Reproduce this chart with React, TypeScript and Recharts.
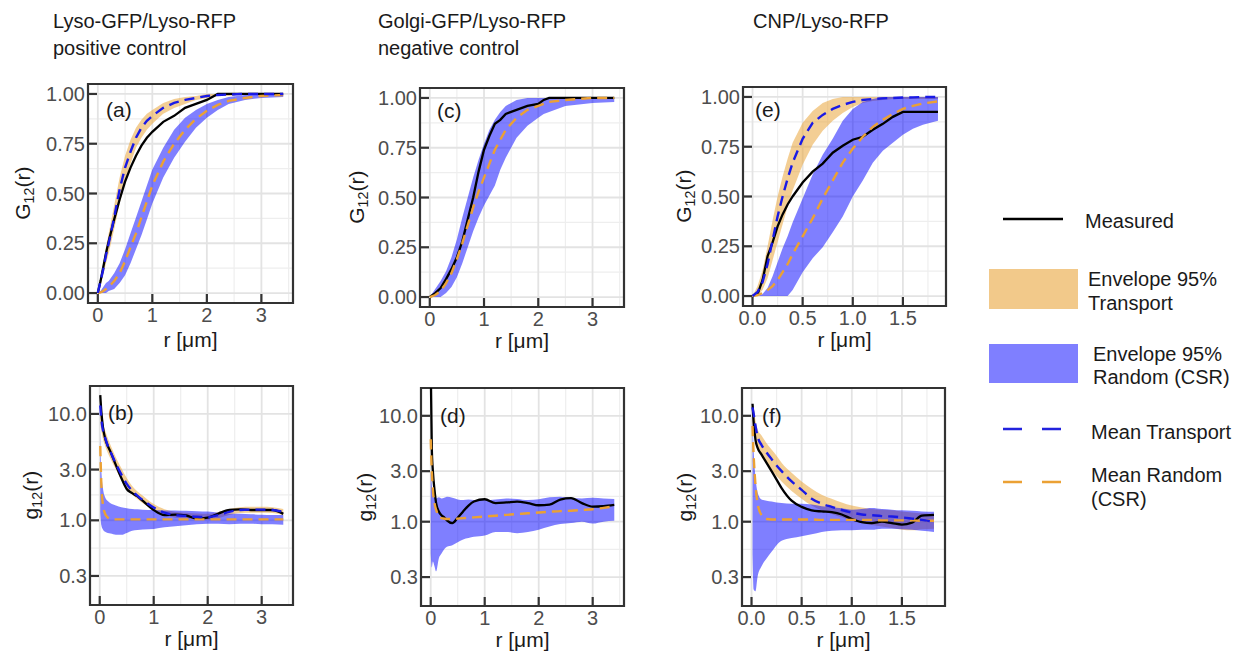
import React from 'react';
import { ComposedChart, Line, Area, XAxis, YAxis, CartesianGrid, ReferenceArea } from 'recharts';

const FONT = '"Liberation Sans", Arial, Helvetica, sans-serif';

// ---------- Panel (a): G12, Lyso-GFP/Lyso-RFP ----------
const aR = [0, 0.05, 0.1, 0.15, 0.2, 0.3, 0.4, 0.5, 0.6, 0.7, 0.8, 0.9, 1.0, 1.2, 1.4, 1.6, 1.8, 2.0, 2.2, 2.4, 2.7, 3.0, 3.4];
const aMeasured = [0, 0.06, 0.13, 0.2, 0.26, 0.37, 0.47, 0.56, 0.63, 0.69, 0.74, 0.78, 0.81, 0.86, 0.89, 0.93, 0.95, 0.97, 1.0, 1.0, 1.0, 1.0, 1.0];
const aMeanTransport = [0, 0.06, 0.12, 0.19, 0.25, 0.38, 0.52, 0.63, 0.71, 0.78, 0.83, 0.865, 0.89, 0.93, 0.955, 0.97, 0.98, 0.99, 0.995, 0.997, 1.0, 1.0, 1.0];
const aTransportLow = [0, 0.04, 0.09, 0.15, 0.2, 0.32, 0.45, 0.56, 0.65, 0.73, 0.78, 0.82, 0.85, 0.9, 0.93, 0.95, 0.97, 0.98, 0.99, 0.99, 1.0, 1.0, 1.0];
const aTransportHigh = [0, 0.08, 0.15, 0.23, 0.3, 0.44, 0.58, 0.69, 0.77, 0.83, 0.87, 0.9, 0.92, 0.955, 0.975, 0.985, 0.99, 1.0, 1.0, 1.0, 1.0, 1.0, 1.0];
const aMeanRandom = [0, 0.003, 0.01, 0.02, 0.03, 0.06, 0.1, 0.16, 0.23, 0.3, 0.38, 0.46, 0.54, 0.66, 0.75, 0.82, 0.875, 0.915, 0.945, 0.965, 0.98, 0.99, 0.995];
const aRandomLow = [0, 0, 0, 0, 0.01, 0.02, 0.05, 0.09, 0.15, 0.22, 0.29, 0.37, 0.45, 0.58, 0.68, 0.76, 0.83, 0.88, 0.92, 0.95, 0.97, 0.98, 0.985];
const aRandomHigh = [0, 0.01, 0.03, 0.05, 0.06, 0.1, 0.15, 0.22, 0.3, 0.38, 0.46, 0.54, 0.62, 0.73, 0.82, 0.88, 0.92, 0.95, 0.97, 0.985, 0.995, 1.0, 1.0];

// ---------- Panel (c): G12, Golgi-GFP/Lyso-RFP ----------
const cR = [0, 0.1, 0.2, 0.3, 0.4, 0.5, 0.6, 0.7, 0.8, 0.9, 1.0, 1.1, 1.2, 1.3, 1.4, 1.6, 1.8, 2.0, 2.1, 2.2, 2.5, 3.0, 3.4];
const cMeasured = [0, 0.02, 0.045, 0.09, 0.14, 0.2, 0.28, 0.39, 0.5, 0.63, 0.74, 0.81, 0.87, 0.89, 0.92, 0.94, 0.96, 0.97, 0.99, 1.0, 1.0, 1.0, 1.0];
const cMeanRandom = [0, 0.01, 0.03, 0.07, 0.12, 0.19, 0.27, 0.36, 0.45, 0.53, 0.6, 0.67, 0.74, 0.79, 0.84, 0.9, 0.94, 0.96, 0.97, 0.98, 0.99, 1.0, 1.0];
const cRandomLow = [0, 0, 0, 0.02, 0.05, 0.1, 0.17, 0.25, 0.33, 0.4, 0.46, 0.51, 0.56, 0.64, 0.7, 0.8, 0.86, 0.9, 0.92, 0.93, 0.96, 0.975, 0.98];
const cRandomHigh = [0, 0.04, 0.08, 0.13, 0.2, 0.29, 0.4, 0.5, 0.6, 0.69, 0.77, 0.84, 0.89, 0.93, 0.96, 0.99, 1.0, 1.0, 1.0, 1.0, 1.0, 1.0, 1.0];

// ---------- Panel (e): G12, CNP/Lyso-RFP ----------
const eR = [0, 0.05, 0.1, 0.15, 0.2, 0.25, 0.3, 0.35, 0.4, 0.5, 0.6, 0.7, 0.8, 0.9, 1.0, 1.1, 1.2, 1.3, 1.4, 1.5, 1.6, 1.7, 1.85];
const eMeasured = [0, 0.01, 0.08, 0.2, 0.27, 0.35, 0.41, 0.46, 0.5, 0.57, 0.625, 0.665, 0.72, 0.755, 0.785, 0.8, 0.835, 0.865, 0.9, 0.925, 0.925, 0.925, 0.925];
const eMeanTransport = [0, 0.02, 0.07, 0.16, 0.28, 0.4, 0.5, 0.59, 0.67, 0.79, 0.87, 0.91, 0.94, 0.96, 0.975, 0.985, 0.99, 0.993, 0.995, 0.997, 0.998, 1.0, 1.0];
const eTransportLow = [0, 0, 0.03, 0.09, 0.18, 0.27, 0.36, 0.45, 0.53, 0.66, 0.76, 0.83, 0.88, 0.92, 0.95, 0.97, 0.98, 0.985, 0.99, 0.99, 0.99, 0.99, 0.99];
const eTransportHigh = [0, 0.05, 0.13, 0.25, 0.38, 0.5, 0.6, 0.69, 0.77, 0.87, 0.93, 0.97, 0.99, 1.0, 1.0, 1.0, 1.0, 1.0, 1.0, 1.0, 1.0, 1.0, 1.0];
const eMeanRandom = [0, 0.005, 0.015, 0.03, 0.05, 0.08, 0.12, 0.16, 0.21, 0.3, 0.39, 0.49, 0.58, 0.67, 0.74, 0.8, 0.85, 0.885, 0.915, 0.94, 0.955, 0.967, 0.978];
const eRandomLow = [0, 0, 0, 0, 0, 0, 0, 0, 0.03, 0.12, 0.19, 0.245, 0.32, 0.4, 0.5, 0.58, 0.67, 0.73, 0.77, 0.81, 0.84, 0.86, 0.88];
const eRandomHigh = [0, 0, 0.01, 0.04, 0.1, 0.17, 0.24, 0.3, 0.37, 0.49, 0.61, 0.71, 0.79, 0.88, 0.94, 0.975, 0.99, 1.0, 1.0, 1.0, 1.0, 1.0, 1.0];

// ---------- Panel (b): g12, Lyso-GFP/Lyso-RFP ----------
const bR = [0.01, 0.03, 0.06, 0.1, 0.15, 0.2, 0.3, 0.4, 0.5, 0.6, 0.7, 0.8, 1.0, 1.2, 1.4, 1.6, 1.8, 2.0, 2.2, 2.4, 2.6, 2.8, 3.0, 3.2, 3.4];
const bMeasured = [15, 10.5, 7.5, 5.9, 5.0, 4.4, 3.3, 2.5, 1.97, 1.8, 1.68, 1.52, 1.25, 1.12, 1.13, 1.11, 1.04, 1.06, 1.16, 1.25, 1.27, 1.25, 1.25, 1.25, 1.15];
const bMeanTransport = [12, 9, 7.0, 6.0, 5.0, 4.4, 3.4, 2.7, 2.2, 1.9, 1.7, 1.55, 1.32, 1.18, 1.12, 1.1, 1.08, 1.07, 1.12, 1.2, 1.25, 1.26, 1.26, 1.25, 1.2];
const bTransportLow = [8, 7, 5.8, 5.0, 4.3, 3.8, 3.0, 2.4, 2.0, 1.75, 1.58, 1.45, 1.24, 1.12, 1.06, 1.04, 1.02, 1.01, 1.05, 1.12, 1.17, 1.18, 1.18, 1.17, 1.12];
const bTransportHigh = [14, 11, 8.2, 7.0, 5.9, 5.1, 3.9, 3.1, 2.5, 2.1, 1.87, 1.7, 1.42, 1.27, 1.2, 1.18, 1.16, 1.15, 1.2, 1.28, 1.33, 1.34, 1.34, 1.33, 1.28];
const bMeanRandom = [5.0, 2.2, 1.4, 1.15, 1.06, 1.03, 1.02, 1.02, 1.02, 1.02, 1.02, 1.02, 1.02, 1.02, 1.02, 1.02, 1.02, 1.02, 1.02, 1.02, 1.02, 1.02, 1.02, 1.02, 1.02];
const bRandomLow = [1.2, 0.9, 0.82, 0.78, 0.76, 0.75, 0.73, 0.73, 0.76, 0.8, 0.81, 0.82, 0.83, 0.86, 0.88, 0.9, 0.92, 0.93, 0.93, 0.92, 0.93, 0.93, 0.92, 0.92, 0.91];
const bRandomHigh = [7.0, 3.0, 2.0, 1.65, 1.52, 1.45, 1.38, 1.33, 1.3, 1.28, 1.27, 1.26, 1.25, 1.24, 1.24, 1.23, 1.22, 1.21, 1.18, 1.16, 1.15, 1.14, 1.13, 1.12, 1.12];

// ---------- Panel (d): g12, Golgi-GFP/Lyso-RFP ----------
const dR = [0.0, 0.02, 0.04, 0.07, 0.1, 0.15, 0.2, 0.25, 0.3, 0.4, 0.5, 0.6, 0.7, 0.8, 1.0, 1.2, 1.4, 1.6, 1.8, 2.0, 2.2, 2.4, 2.6, 2.8, 3.0, 3.2, 3.4];
const dMeasured = [30, 5.0, 3.0, 2.0, 1.5, 1.25, 1.15, 1.1, 1.03, 0.97, 1.09, 1.25, 1.42, 1.55, 1.63, 1.5, 1.52, 1.55, 1.5, 1.43, 1.45, 1.62, 1.67, 1.5, 1.39, 1.4, 1.44];
const dMeanRandom = [6.0, 3.0, 2.0, 1.5, 1.3, 1.12, 1.08, 1.07, 1.06, 1.06, 1.07, 1.08, 1.09, 1.1, 1.12, 1.14, 1.16, 1.18, 1.2, 1.22, 1.24, 1.26, 1.27, 1.29, 1.31, 1.35, 1.4];
const dRandomLow = [0.5, 0.37, 0.42, 0.38, 0.34, 0.45, 0.5, 0.55, 0.58, 0.6, 0.64, 0.68, 0.7, 0.72, 0.74, 0.8, 0.8, 0.78, 0.8, 0.84, 0.9, 0.95, 0.97, 1.0, 0.96, 1.0, 1.02];
const dRandomHigh = [3.0, 2.2, 1.75, 1.68, 1.66, 1.7, 1.66, 1.68, 1.72, 1.68, 1.62, 1.6, 1.62, 1.6, 1.6, 1.62, 1.66, 1.64, 1.6, 1.63, 1.7, 1.72, 1.68, 1.66, 1.68, 1.66, 1.64];

// ---------- Panel (f): g12, CNP/Lyso-RFP ----------
const fR = [0.01, 0.02, 0.04, 0.06, 0.1, 0.15, 0.2, 0.25, 0.3, 0.4, 0.5, 0.6, 0.7, 0.8, 0.9, 1.0, 1.1, 1.2, 1.3, 1.4, 1.5, 1.6, 1.7, 1.82];
const fMeasured = [13, 9, 5.9, 5.0, 4.3, 3.6, 3.0, 2.5, 2.08, 1.58, 1.38, 1.28, 1.25, 1.23, 1.17, 1.06, 0.99, 0.97, 1.0, 0.97, 0.94, 0.98, 1.14, 1.16];
const fMeanTransport = [12, 10.6, 8, 6.4, 5.3, 4.5, 3.9, 3.4, 3.0, 2.4, 2.0, 1.65, 1.48, 1.38, 1.29, 1.22, 1.17, 1.15, 1.13, 1.12, 1.1, 1.07, 1.04, 1.0];
const fTransportLow = [8, 7.5, 6.0, 5.2, 4.3, 3.6, 3.1, 2.7, 2.4, 1.95, 1.65, 1.42, 1.28, 1.18, 1.1, 1.02, 0.97, 0.93, 0.9, 0.87, 0.84, 0.83, 0.85, 0.86];
const fTransportHigh = [13, 12, 9, 7.5, 6.5, 5.5, 4.8, 4.2, 3.6, 2.9, 2.4, 2.05, 1.8, 1.65, 1.52, 1.42, 1.36, 1.32, 1.3, 1.28, 1.25, 1.22, 1.2, 1.18];
const fMeanRandom = [8.0, 4.5, 2.2, 1.5, 1.15, 1.06, 1.05, 1.05, 1.05, 1.05, 1.05, 1.05, 1.04, 1.04, 1.04, 1.04, 1.04, 1.04, 1.03, 1.03, 1.03, 1.03, 1.02, 1.02];
const fRandomLow = [0.5, 0.23, 0.22, 0.3, 0.38, 0.45, 0.52, 0.6, 0.66, 0.7, 0.73, 0.76, 0.8, 0.82, 0.83, 0.83, 0.84, 0.84, 0.86, 0.86, 0.85, 0.84, 0.82, 0.8];
const fRandomHigh = [9.5, 5, 2.6, 1.9, 1.62, 1.58, 1.55, 1.52, 1.5, 1.48, 1.48, 1.45, 1.4, 1.37, 1.34, 1.3, 1.32, 1.35, 1.32, 1.3, 1.28, 1.27, 1.25, 1.24];

// ---------- axes ----------
const gTicks = [0, 0.25, 0.5, 0.75, 1.0];
const gMinor = [0.125, 0.375, 0.625, 0.875];
const logTicks = [0.3, 1, 3, 10];
const logMinor = [0.548, 1.732, 5.477];
const rTicksLong = [0, 1, 2, 3];
const rMinorLong = [0.5, 1.5, 2.5, 3.5];
const rTicksShort = [0, 0.5, 1.0, 1.5];
const rMinorShort = [0.25, 0.75, 1.25, 1.75];

const headers = [
  { lines: ['Lyso-GFP/Lyso-RFP', 'positive control'], x: 53 },
  { lines: ['Golgi-GFP/Lyso-RFP', 'negative control'], x: 378 },
  { lines: ['CNP/Lyso-RFP'], x: 753 },
];

function buildRows(r: number[], meas: number[], mr: number[], rl: number[], rh: number[], mt?: number[], tl?: number[], th?: number[]) {
  return r.map((x, i) => ({
    r: x,
    meas: meas[i],
    meanR: mr[i],
    envR: [rl[i], rh[i]],
    meanT: mt ? mt[i] : undefined,
    envT: tl && th ? [tl[i], th[i]] : undefined,
  }));
}

const YW = 60;
const XH = 34;
const PAD = 4;
const TICK = '#333333';
const LABEL = '#4d4d4d';

const fmtG = (v: number) => v.toFixed(2);
const fmtInt = (v: number) => String(Math.round(v));
const fmt1 = (v: number) => v.toFixed(1);

const XTick = (props: any) => {
  const { x, y, payload, fmt } = props;
  return (
    <g>
      <line x1={x} x2={x} y1={y} y2={y - 9} stroke={TICK} strokeWidth={2.2} />
      <text x={x} y={y + 19} textAnchor="middle" fill={LABEL} fontSize={20} fontFamily={FONT}>{fmt(payload.value)}</text>
    </g>
  );
};

const YTick = (props: any) => {
  const { x, y, payload, fmt } = props;
  return (
    <g>
      <line x1={x} x2={x + 9} y1={y} y2={y} stroke={TICK} strokeWidth={2.2} />
      <text x={x - 3} y={y + 7} textAnchor="end" fill={LABEL} fontSize={20} fontFamily={FONT}>{fmt(payload.value)}</text>
    </g>
  );
};

type Box = { left: number; top: number; width: number; height: number };

function Panel(p: {
  rows: any[]; box: Box;
  xDomain: [number, number]; xTicks: number[]; xMinor: number[]; xFmt: (v: number) => string;
  yDomain: [number, number]; yTicks: number[]; yMinor: number[]; yFmt: (v: number) => string;
  log?: boolean; curve: 'linear' | 'monotone'; transport: boolean;
}) {
  const W = YW + p.box.width + PAD;
  const H = PAD + p.box.height + XH;
  return (
    <div style={{ position: 'absolute', left: p.box.left - YW, top: p.box.top - PAD }}>
      <ComposedChart width={W} height={H} data={p.rows} margin={{ top: PAD, right: PAD, bottom: 0, left: 0 }}>
        <CartesianGrid horizontalValues={p.yMinor} verticalValues={p.xMinor} stroke="#eeeeee" strokeWidth={1.2} />
        <CartesianGrid horizontalValues={p.yTicks} verticalValues={p.xTicks} stroke="#e3e3e3" strokeWidth={1.8} />
        <XAxis dataKey="r" type="number" domain={p.xDomain} allowDataOverflow ticks={p.xTicks} interval={0}
          tickSize={0} tickMargin={0} tickLine={false} axisLine={false} height={XH}
          tick={(t: any) => <XTick {...t} fmt={p.xFmt} />} />
        <YAxis type="number" scale={p.log ? 'log' : 'linear'} domain={p.yDomain} allowDataOverflow ticks={p.yTicks} interval={0}
          tickSize={0} tickMargin={0} tickLine={false} axisLine={false} width={YW}
          tick={(t: any) => <YTick {...t} fmt={p.yFmt} />} />
        {p.transport && (
          <Area dataKey="envT" type={p.curve} stroke="none" fill="#e9a53c" fillOpacity={0.55}
            isAnimationActive={false} dot={false} activeDot={false} />
        )}
        <Area dataKey="envR" type={p.curve} stroke="none" fill="#0000ff" fillOpacity={0.5}
          isAnimationActive={false} dot={false} activeDot={false} />
        <Line dataKey="meas" type={p.curve} stroke="#000000" strokeWidth={2.3} dot={false} activeDot={false} isAnimationActive={false} />
        <Line dataKey="meanR" type={p.curve} stroke="#eba134" strokeWidth={2.4} strokeDasharray="10 6" dot={false} activeDot={false} isAnimationActive={false} />
        {p.transport && (
          <Line dataKey="meanT" type={p.curve} stroke="#1a1ae6" strokeWidth={2.4} strokeDasharray="10 6" dot={false} activeDot={false} isAnimationActive={false} />
        )}
        <ReferenceArea x1={p.xDomain[0]} x2={p.xDomain[1]} y1={p.yDomain[0]} y2={p.yDomain[1]}
          fill="none" fillOpacity={0} stroke={TICK} strokeWidth={2.2} ifOverflow="visible" />
      </ComposedChart>
    </div>
  );
}

const Txt = (p: { x: number; baseline: number; size?: number; anchor?: 'start' | 'middle'; color?: string; lhf?: number; children: any }) => {
  const size = p.size ?? 20;
  const f = p.lhf ?? 1;
  const lh = size * f;
  const top = p.baseline - ((f - 1.117) / 2 + 0.905) * size;
  const w = 70;
  return (
    <div style={{
      position: 'absolute', top, left: p.anchor === 'middle' ? p.x - w / 2 : p.x,
      width: p.anchor === 'middle' ? w : undefined, textAlign: p.anchor === 'middle' ? 'center' : 'left',
      fontSize: size, lineHeight: `${lh}px`, height: lh, color: p.color ?? '#1a1a1a', whiteSpace: 'nowrap', fontFamily: FONT,
    }}>{p.children}</div>
  );
};

const RotTitle = (p: { cx: number; cy: number; letter: string }) => {
  const size = 21;
  const lh = size * 1.25;
  return (
    <div style={{
      position: 'absolute', left: p.cx - 40, top: p.cy - lh / 2, width: 80, height: lh, lineHeight: `${lh}px`,
      textAlign: 'center', fontSize: size, color: '#1a1a1a', transform: 'rotate(-90deg)', fontFamily: FONT, whiteSpace: 'nowrap',
    }}>
      {p.letter}<span style={{ fontSize: '0.68em', position: 'relative', top: '0.3em' }}>12</span>(r)
    </div>
  );
};

const rowsA = buildRows(aR, aMeasured, aMeanRandom, aRandomLow, aRandomHigh, aMeanTransport, aTransportLow, aTransportHigh);
const rowsC = buildRows(cR, cMeasured, cMeanRandom, cRandomLow, cRandomHigh);
const rowsE = buildRows(eR, eMeasured, eMeanRandom, eRandomLow, eRandomHigh, eMeanTransport, eTransportLow, eTransportHigh);
const rowsB = buildRows(bR, bMeasured, bMeanRandom, bRandomLow, bRandomHigh, bMeanTransport, bTransportLow, bTransportHigh);
const rowsD = buildRows(dR, dMeasured, dMeanRandom, dRandomLow, dRandomHigh);
const rowsF = buildRows(fR, fMeasured, fMeanRandom, fRandomLow, fRandomHigh, fMeanTransport, fTransportLow, fTransportHigh);

const longX: [number, number] = [-0.18, 3.58];
const shortX: [number, number] = [-0.095, 1.93];
const gY: [number, number] = [-0.05, 1.05];
const logY: [number, number] = [0.16, 18.3];

export default function App() {
  const boxA = { left: 88, top: 84, width: 205, height: 219 };
  const boxC = { left: 420, top: 88, width: 204, height: 219 };
  const boxE = { left: 743, top: 87, width: 203, height: 219 };
  const boxB = { left: 90, top: 386, width: 203, height: 219 };
  const boxD = { left: 421, top: 388, width: 203, height: 218 };
  const boxF = { left: 742, top: 388, width: 203, height: 218 };
  const micro = 'r [\u03bcm]';
  return (
    <div style={{ position: 'absolute', left: 0, top: 0, width: 1241, height: 652, background: '#ffffff', overflow: 'hidden', fontFamily: FONT }}>
      {headers.map((h, i) => h.lines.map((l, j) => (
        <Txt key={`${i}-${j}`} x={h.x} baseline={28 + j * 27} size={20}>{l}</Txt>
      )))}

      <Panel rows={rowsA} box={boxA} xDomain={longX} xTicks={rTicksLong} xMinor={rMinorLong} xFmt={fmtInt}
        yDomain={gY} yTicks={gTicks} yMinor={gMinor} yFmt={fmtG} curve="linear" transport />
      <Panel rows={rowsC} box={boxC} xDomain={longX} xTicks={rTicksLong} xMinor={rMinorLong} xFmt={fmtInt}
        yDomain={gY} yTicks={gTicks} yMinor={gMinor} yFmt={fmtG} curve="linear" transport={false} />
      <Panel rows={rowsE} box={boxE} xDomain={shortX} xTicks={rTicksShort} xMinor={rMinorShort} xFmt={fmt1}
        yDomain={gY} yTicks={gTicks} yMinor={gMinor} yFmt={fmtG} curve="linear" transport />
      <Panel rows={rowsB} box={boxB} xDomain={longX} xTicks={rTicksLong} xMinor={rMinorLong} xFmt={fmtInt}
        yDomain={logY} yTicks={logTicks} yMinor={logMinor} yFmt={fmt1} log curve="monotone" transport />
      <Panel rows={rowsD} box={boxD} xDomain={longX} xTicks={rTicksLong} xMinor={rMinorLong} xFmt={fmtInt}
        yDomain={logY} yTicks={logTicks} yMinor={logMinor} yFmt={fmt1} log curve="monotone" transport={false} />
      <Panel rows={rowsF} box={boxF} xDomain={shortX} xTicks={rTicksShort} xMinor={rMinorShort} xFmt={fmt1}
        yDomain={logY} yTicks={logTicks} yMinor={logMinor} yFmt={fmt1} log curve="monotone" transport />

      {/* panel letters */}
      <Txt x={106} baseline={117} size={21}>(a)</Txt>
      <Txt x={437} baseline={118} size={21}>(c)</Txt>
      <Txt x={755} baseline={117} size={21}>(e)</Txt>
      <Txt x={108} baseline={420} size={21}>(b)</Txt>
      <Txt x={440} baseline={423} size={21}>(d)</Txt>
      <Txt x={762} baseline={423} size={21}>(f)</Txt>

      {/* axis titles */}
      <Txt x={190.5} baseline={347} size={21} lhf={0.72} anchor="middle">{micro}</Txt>
      <Txt x={522} baseline={348} size={21} lhf={0.72} anchor="middle">{micro}</Txt>
      <Txt x={844.5} baseline={347} size={21} lhf={0.72} anchor="middle">{micro}</Txt>
      <Txt x={191.5} baseline={646} size={21} lhf={0.72} anchor="middle">{micro}</Txt>
      <Txt x={522.5} baseline={647} size={21} lhf={0.72} anchor="middle">{micro}</Txt>
      <Txt x={843.5} baseline={647} size={21} lhf={0.72} anchor="middle">{micro}</Txt>
      <RotTitle cx={23} cy={193} letter="G" />
      <RotTitle cx={357} cy={197} letter="G" />
      <RotTitle cx={684} cy={196} letter="G" />
      <RotTitle cx={31} cy={495} letter="g" />
      <RotTitle cx={365} cy={497} letter="g" />
      <RotTitle cx={685} cy={497} letter="g" />

      {/* legend */}
      <svg style={{ position: 'absolute', left: 0, top: 0 }} width={1241} height={652}>
        <line x1={1003} x2={1063} y1={219} y2={219} stroke="#000" strokeWidth={2.5} />
        <rect x={989} y={269} width={89} height={40} fill="#e9a53c" fillOpacity={0.6} />
        <rect x={989} y={344} width={89} height={39} fill="#0000ff" fillOpacity={0.5} />
        <line x1={1003} x2={1062} y1={429} y2={429} stroke="#2222dd" strokeWidth={2.5} strokeDasharray="19 20" />
        <line x1={1003} x2={1062} y1={482} y2={482} stroke="#eba134" strokeWidth={2.5} strokeDasharray="19 20" />
      </svg>
      <Txt x={1085} baseline={228} size={20}>Measured</Txt>
      <Txt x={1088} baseline={286} size={20}>Envelope 95%</Txt>
      <Txt x={1088} baseline={310} size={20}>Transport</Txt>
      <Txt x={1093} baseline={361} size={20}>Envelope 95%</Txt>
      <Txt x={1093} baseline={384} size={20}>Random (CSR)</Txt>
      <Txt x={1091} baseline={439} size={20}>Mean Transport</Txt>
      <Txt x={1091} baseline={482} size={20}>Mean Random</Txt>
      <Txt x={1091} baseline={506} size={20}>(CSR)</Txt>
    </div>
  );
}
